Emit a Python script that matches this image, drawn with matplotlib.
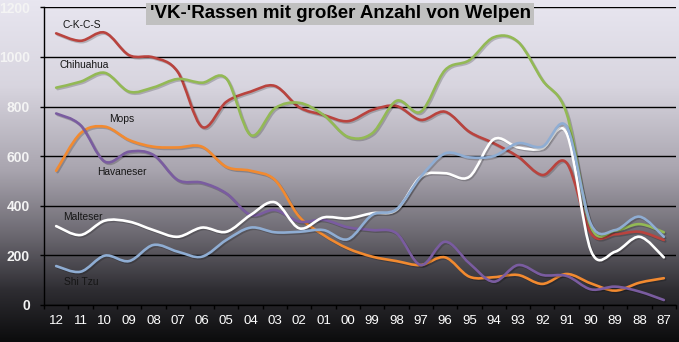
import numpy as np
import matplotlib
matplotlib.use('Agg')
import matplotlib.pyplot as plt
import matplotlib.patheffects as pe
from matplotlib.path import Path
from matplotlib.patches import PathPatch, Rectangle
from matplotlib.colors import LinearSegmentedColormap

plt.rcParams['font.family'] = ['Liberation Sans', 'DejaVu Sans']

# Jahrgang (12 = 2012 ... 87 = 1987)
years = ['12', '11', '10', '09', '08', '07', '06', '05', '04', '03', '02', '01', '00',
         '99', '98', '97', '96', '95', '94', '93', '92', '91', '90', '89', '88', '87']

ckcs = [1095, 1065, 1098, 1007, 998, 940, 718, 819, 860, 883, 797, 766, 741,
        786, 802, 746, 779, 698, 652, 598, 524, 573, 289, 285, 295, 262]
chihuahua = [876, 900, 936, 860, 877, 911, 896, 913, 685, 793, 815, 766, 678,
             692, 823, 779, 947, 987, 1079, 1061, 907, 772, 316, 300, 326, 293]
mops = [541, 692, 719, 665, 638, 635, 638, 557, 541, 504, 356, 282, 228,
        195, 177, 161, 192, 114, 112, 121, 85, 125, 87, 58, 90, 108]
havaneser = [772, 725, 578, 618, 605, 504, 493, 450, 363, 383, 336, 343, 313,
             302, 289, 161, 255, 168, 94, 161, 121, 117, 63, 74, 54, 20]
malteser = [318, 282, 340, 336, 302, 275, 312, 295, 363, 414, 309, 353, 349,
            370, 383, 517, 531, 517, 668, 635, 631, 692, 219, 215, 275, 192]
shitzu = [157, 134, 199, 177, 242, 215, 195, 262, 312, 293, 295, 302, 265,
          363, 386, 517, 611, 595, 600, 652, 638, 719, 326, 302, 356, 275]

series = [
    ('C-K-C-S', ckcs, '#b9433e', (1.07, 1128)),
    ('Chihuahua', chihuahua, '#93b955', (1.15, 967)),
    ('Mops', mops, '#f28a30', (2.68, 750)),
    ('Havaneser', havaneser, '#7a5ca0', (2.72, 536)),
    ('Malteser', malteser, '#ffffff', (1.11, 355)),
    ('Shi Tzu', shitzu, '#8fadd3', (1.05, 93)),
]


def smooth_path(values):
    # Bezier segments through every point (smoothed line like a spreadsheet chart)
    pts = np.column_stack([np.arange(len(values), dtype=float), np.asarray(values, float)])
    padded = np.vstack([pts[0], pts, pts[-1]])
    verts = [pts[0]]
    codes = [Path.MOVETO]
    for i in range(len(pts) - 1):
        p0, p1, p2, p3 = padded[i], padded[i + 1], padded[i + 2], padded[i + 3]
        verts += [p1 + (p2 - p0) / 6.0, p2 - (p3 - p1) / 6.0, p2]
        codes += [Path.CURVE4] * 3
    return Path(verts, codes)


W, H = 679, 342
fig = plt.figure(figsize=(W / 100, H / 100), dpi=100)

# background gradient over the whole chart
bg = fig.add_axes([0, 0, 1, 1], zorder=0)
bg_cmap = LinearSegmentedColormap.from_list('bg', [
    (0.0, '#e8e6f0'), (0.25, '#d8d5df'), (0.5, '#a8a4ae'),
    (0.7, '#67646c'), (0.85, '#2e2d32'), (1.0, '#0c0c0d')])
bg.imshow(np.linspace(0, 1, 256).reshape(-1, 1), aspect='auto', cmap=bg_cmap,
          extent=[0, 1, 0, 1], origin='upper')
bg.set_axis_off()

ax = fig.add_axes([44 / W, (H - 305) / H, (676 - 44) / W, (305 - 7.3) / H], zorder=1)
ax.patch.set_alpha(0)

ax.set_xlim(-0.5, len(years) - 0.5)
ax.set_ylim(0, 1200)
ax.set_yticks(np.arange(0, 1201, 200))
ax.yaxis.grid(True, color='black', lw=1.0)
ax.set_axisbelow(True)

ax.set_xticks(np.arange(len(years) + 1) - 0.5)
ax.set_xticklabels([])
ax.set_xticks(np.arange(len(years)), minor=True)
ax.set_xticklabels(years, minor=True)
ax.tick_params(axis='x', which='major', length=3, width=1, color='black', direction='out')
ax.tick_params(axis='x', which='minor', length=0, pad=7, labelsize=9.5, labelcolor='white')
ax.tick_params(axis='y', length=3, width=1, color='black', pad=7, labelsize=10,
               labelcolor='#f4f4f4')
for lbl in ax.get_yticklabels():
    lbl.set_fontweight('bold')

for side in ['top', 'right']:
    ax.spines[side].set_visible(False)
for side in ['left', 'bottom']:
    ax.spines[side].set_color('black')
    ax.spines[side].set_linewidth(1.0)

for name, vals, col, (tx, ty) in series:
    patch = PathPatch(smooth_path(vals), fill=False, edgecolor=col, lw=1.9,
                      capstyle='round', joinstyle='round', zorder=3)
    patch.set_path_effects([pe.SimpleLineShadow(offset=(1, -1), shadow_color='black', alpha=0.2),
                            pe.Normal()])
    ax.add_patch(patch)
    ax.text(tx, ty, name, fontsize=7.4, color='#161616', ha='center', va='center', zorder=4)

# title box
fig.patches.append(Rectangle((146 / W, (H - 25) / H), (534 - 146) / W, 22 / H,
                             transform=fig.transFigure, facecolor='#c0c0c0',
                             edgecolor='none', zorder=5))
fig.text(340 / W, (H - 14) / H, "'VK-'Rassen mit großer Anzahl von Welpen",
         fontsize=13.5, fontweight='bold', color='black', ha='center', va='center', zorder=6)

fig.savefig('out.png', dpi=100)
